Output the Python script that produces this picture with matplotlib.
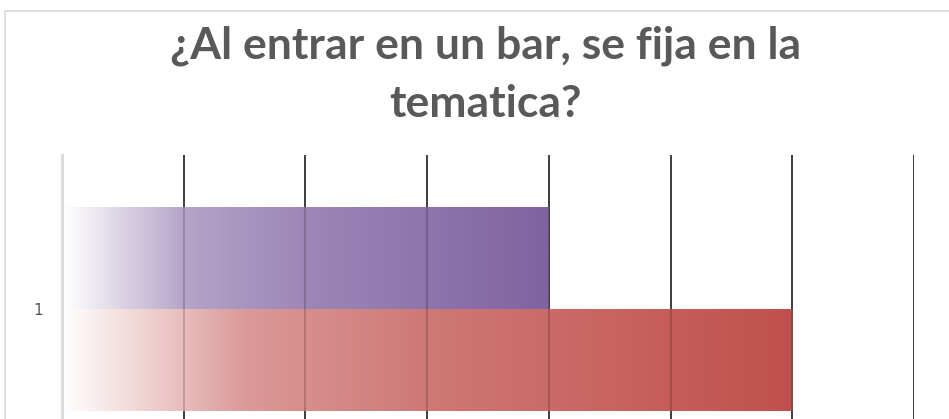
import numpy as np
import matplotlib.pyplot as plt
from matplotlib.colors import to_rgb
from matplotlib.patches import Rectangle

# data
categories = ['1']
series_names = ['Si', 'No']
series_values = [4, 6]
series_colors = ['#7F63A1', '#C0504D']
x_max = 7

title = '¿Al entrar en un bar, se fija en la\ntematica?'

fig = plt.figure(figsize=(9.49, 4.19), dpi=100)

# light chart border like the spreadsheet export
fig.patches.append(Rectangle((5 / 949, -0.2), 1.2, (419 - 11) / 419 + 0.2,
                             transform=fig.transFigure, fill=False,
                             edgecolor='#D9D9D9', linewidth=1.2))

ax = fig.add_axes([62 / 949, (419 - 463) / 419, 852 / 949, 308 / 419])

bar_h = 0.33
y = np.arange(len(categories)) + 1
bars = []
for i, (name, val, col) in enumerate(zip(series_names, series_values, series_colors)):
    offset = bar_h / 2 if i == 0 else -bar_h / 2
    b = ax.barh(y + offset, [val], height=bar_h, color='none', edgecolor='none', label=name)
    bars.append((b, col))

# white -> colour gradient inside each bar (excel-like stops)
grad_pos = [0, 0.08, 0.25, 0.5, 1]
grad_mix = [0, 0.18, 0.58, 0.77, 1]
for b, col in bars:
    for p in b.patches:
        x0, y0 = p.get_x(), p.get_y()
        w, h = p.get_width(), p.get_height()
        t = np.interp(np.linspace(0, 1, 256), grad_pos, grad_mix)
        rgb = np.array(to_rgb(col))
        img = 1 - np.outer(t, 1 - rgb)
        img = img[np.newaxis, :, :]
        ax.imshow(img, extent=(x0, x0 + w, y0, y0 + h), aspect='auto',
                  zorder=2, interpolation='bilinear')

ax.set_xlim(0, x_max)
ax.set_ylim(0.5, 1.5)
ax.set_xticks(range(1, x_max + 1))
ax.set_xticklabels([])
ax.tick_params(axis='x', length=0)
ax.grid(axis='x', color='#1a1a1a', linewidth=1.1, zorder=1)
ax.set_axisbelow(True)
# gridlines faintly visible through the bars
for xv in range(1, x_max + 1):
    ax.axvline(xv, color='black', linewidth=1.1, alpha=0.22, zorder=3)
ax.set_yticks(y)
ax.set_yticklabels(categories, color='#595959', fontsize=11)
ax.tick_params(axis='y', length=0, pad=14)

for s in ['top', 'right', 'bottom']:
    ax.spines[s].set_visible(False)
ax.spines['left'].set_color('#D9D9D9')
ax.spines['left'].set_linewidth(2)
ax.spines['left'].set_zorder(4)

fig.text(486 / 949, 1 - 75 / 419, title, ha='center', va='center',
         fontsize=32, fontweight='bold', color='#595959', family='Lato',
         linespacing=1.55)

fig.savefig('out.png', dpi=100)
